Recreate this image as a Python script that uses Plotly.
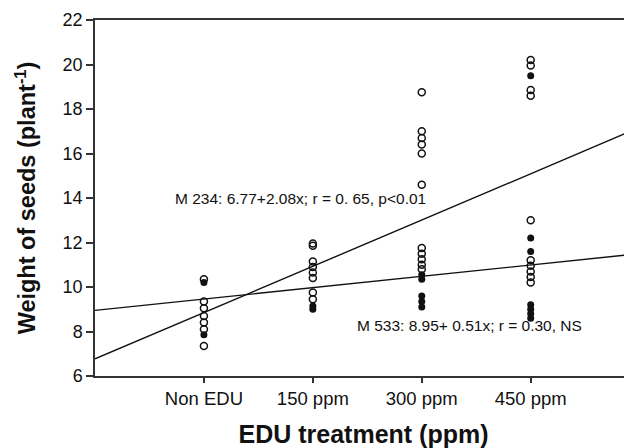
import plotly.graph_objects as go

# Category positions and labels
categories = ["Non EDU", "150 ppm", "300 ppm", "450 ppm"]
cat_pos = [1, 2, 3, 4]

# Open-circle values per category
open_non = [10.35, 9.35, 9.05, 8.7, 8.4, 8.1, 7.35]
open_150 = [11.95, 11.85, 11.15, 10.9, 10.65, 10.4, 9.75, 9.45]
open_300 = [18.75, 17.0, 16.7, 16.4, 16.0, 14.6, 11.75, 11.5, 11.25, 11.0, 10.8]
open_450 = [20.2, 19.95, 18.85, 18.6, 13.0, 11.2, 10.95, 10.7, 10.45, 10.2]

# Filled-circle values per category
fill_non = [10.2, 7.85]
fill_150 = [9.15, 9.0]
fill_300 = [10.55, 10.35, 9.6, 9.35, 9.1]
fill_450 = [19.5, 12.2, 11.6, 9.2, 9.0, 8.8, 8.6]

# Regression lines (intercept, slope) as given in chart text
m234_coef = [6.77, 2.08]
m533_coef = [8.95, 0.51]
line_x = [0, 5]

y_ticks = [6, 8, 10, 12, 14, 16, 18, 20, 22]

FONT = "Liberation Sans, Arial, sans-serif"

fig = go.Figure()

def xs(pos, vals):
    return [pos] * len(vals)

open_x, open_y = [], []
for p, v in zip(cat_pos, [open_non, open_150, open_300, open_450]):
    open_x += xs(p, v); open_y += v
fill_x, fill_y = [], []
for p, v in zip(cat_pos, [fill_non, fill_150, fill_300, fill_450]):
    fill_x += xs(p, v); fill_y += v

for coef in [m234_coef, m533_coef]:
    fig.add_trace(go.Scatter(
        x=line_x, y=[coef[0] + coef[1] * xv for xv in line_x],
        mode="lines", line=dict(color="#111", width=1.4), showlegend=False,
        hoverinfo="skip"))

fig.add_trace(go.Scatter(
    x=open_x, y=open_y, mode="markers",
    marker=dict(symbol="circle-open", size=7, color="#111", line=dict(width=1.5, color="#111")),
    showlegend=False, cliponaxis=False))
fig.add_trace(go.Scatter(
    x=fill_x, y=fill_y, mode="markers",
    marker=dict(symbol="circle", size=7, color="#111"),
    showlegend=False, cliponaxis=False))

fig.add_annotation(x=0.716, y=13.97, xref="x", yref="y", xanchor="left", yanchor="middle",
                   text="M 234: 6.77+2.08x; r = 0. 65, p<0.01", showarrow=False,
                   font=dict(family=FONT, size=15.5, color="#111"))
fig.add_annotation(x=2.387, y=8.25, xref="x", yref="y", xanchor="left", yanchor="middle",
                   text="M 533: 8.95+ 0.51x; r = 0.30, NS", showarrow=False,
                   font=dict(family=FONT, size=15.5, color="#111"))

fig.update_layout(
    width=624, height=440,
    margin=dict(l=87, r=0, t=12, b=72),
    paper_bgcolor="white", plot_bgcolor="white",
    font=dict(family=FONT, color="#111"),
    xaxis=dict(
        range=[0, 4.93], tickmode="array", tickvals=cat_pos, ticktext=categories,
        showgrid=False, zeroline=False, showline=True, linecolor="#333", linewidth=1.5,
        mirror=True, ticks="outside", ticklen=5, tickwidth=1.5, tickcolor="#333",
        tickfont=dict(family=FONT, size=18.5, color="#111"),
        title=dict(text="<b>EDU treatment (ppm)</b>", font=dict(family=FONT, size=25, color="#111"), standoff=18),
    ),
    yaxis=dict(
        range=[6, 22], tickmode="array", tickvals=y_ticks,
        showgrid=False, zeroline=False, showline=True, linecolor="#333", linewidth=1.5,
        ticks="outside", ticklen=7, tickwidth=1.5, tickcolor="#333",
        tickfont=dict(family=FONT, size=18, color="#111"),
        title=dict(text="<b>Weight of seeds (plant<sup>-1</sup>)</b>", font=dict(family=FONT, size=23.5, color="#111"), standoff=20),
    ),
)

fig.write_html("out.html")
